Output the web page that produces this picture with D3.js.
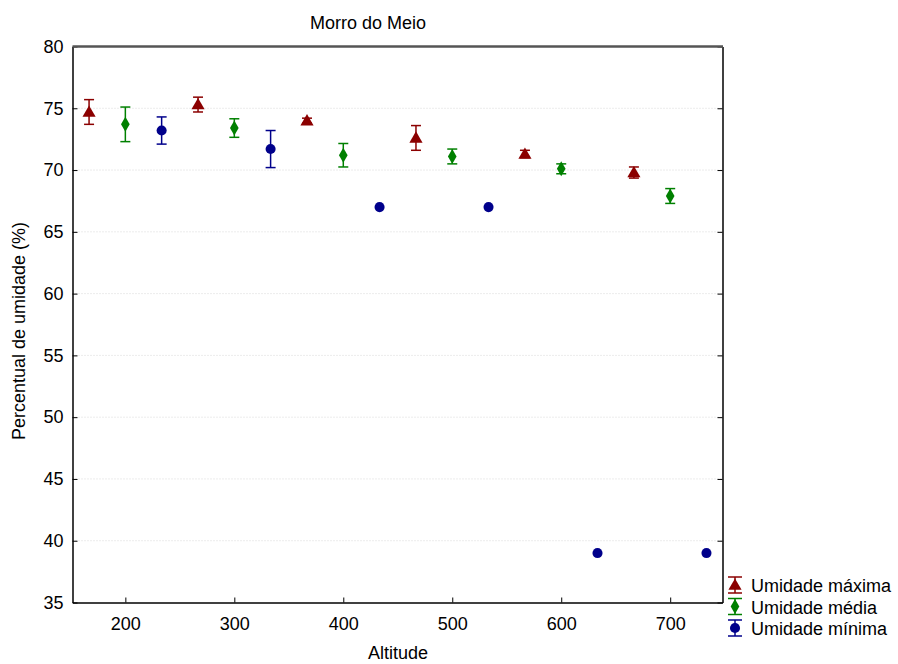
<!DOCTYPE html>
<html>
<head>
<meta charset="utf-8">
<script src="https://cdn.jsdelivr.net/npm/d3@7"></script>
<style>
  body { margin: 0; background: #fff; }
  svg { font-family: "Liberation Sans", Arial, sans-serif; }
</style>
</head>
<body>
<svg id="chart" width="898" height="664"></svg>
<script>
// Humidity by altitude, Morro do Meio
const altMax = [166.7, 266.7, 366.7, 466.7, 566.7, 666.7];
const valMax = [74.7, 75.3, 74.0, 72.6, 71.3, 69.8];
const errMax = [1.0, 0.6, 0.2, 1.0, 0.3, 0.45];

const altMed = [200, 300, 400, 500, 600, 700];
const valMed = [73.7, 73.4, 71.2, 71.1, 70.1, 67.9];
const errMed = [1.4, 0.75, 0.95, 0.6, 0.4, 0.6];

const altMin = [233.3, 333.3, 433.3, 533.3, 633.3, 733.3];
const valMin = [73.2, 71.7, 67.0, 67.0, 39.0, 39.0];
const errMin = [1.1, 1.5, 0, 0, 0, 0];

const xTicks = [200, 300, 400, 500, 600, 700];
const yTicks = [35, 40, 45, 50, 55, 60, 65, 70, 75, 80];

const seriesNames = ["Umidade máxima", "Umidade média", "Umidade mínima"];
const seriesColors = ["#8b0000", "#008000", "#00008b"];

const svg = d3.select("#chart");
const plotLeft = 72.5, plotRight = 722.5, plotTop = 46.5, plotBottom = 602.5;

const x = d3.scaleLinear().domain([151.5, 748]).range([plotLeft, plotRight]);
const y = d3.scaleLinear().domain([35, 80]).range([plotBottom, plotTop]);

// grid lines
svg.append("g").selectAll("line").data(yTicks.slice(1, -1)).join("line")
  .attr("x1", plotLeft).attr("x2", plotRight)
  .attr("y1", d => y(d)).attr("y2", d => y(d))
  .attr("stroke", "#d8d8d8").attr("stroke-width", 1)
  .attr("stroke-dasharray", "1,2");

// axes with inward ticks
const fontSize = 18;
const xAxis = svg.append("g").attr("transform", `translate(0,${plotBottom})`)
  .call(d3.axisBottom(x).tickValues(xTicks).tickSizeInner(-5).tickSizeOuter(0).tickPadding(15));
const yAxis = svg.append("g").attr("transform", `translate(${plotLeft},0)`)
  .call(d3.axisLeft(y).tickValues(yTicks).tickSizeInner(-5).tickSizeOuter(0).tickPadding(9));
const yAxisR = svg.append("g").attr("transform", `translate(${plotRight},0)`)
  .call(d3.axisRight(y).tickValues(yTicks).tickSizeInner(-5).tickSizeOuter(0).tickFormat(""));
[xAxis, yAxis, yAxisR].forEach(g => {
  g.selectAll("text").attr("font-size", fontSize).attr("fill", "#000")
    .attr("font-family", "Liberation Sans, Arial, sans-serif");
  g.selectAll("line").attr("stroke", "#000");
  g.select(".domain").attr("stroke", "#000").attr("stroke-width", 1.5);
});

// top frame line
svg.append("line").attr("x1", plotLeft).attr("x2", plotRight + 0.5)
  .attr("y1", plotTop).attr("y2", plotTop)
  .attr("stroke", "#555").attr("stroke-width", 2.5);

// title and axis labels
svg.append("text").attr("x", 368).attr("y", 29).attr("text-anchor", "middle")
  .attr("font-size", fontSize).text("Morro do Meio");
svg.append("text").attr("x", 398).attr("y", 659).attr("text-anchor", "middle")
  .attr("font-size", fontSize).text("Altitude");
svg.append("text").attr("transform", `translate(25,331) rotate(-90)`)
  .attr("text-anchor", "middle").attr("font-size", fontSize)
  .text("Percentual de umidade (%)");

// markers
const triangle = d3.symbol().type(d3.symbolTriangle).size(75);
const diamond = d3.symbol().type(d3.symbolDiamond).size(65);
const circle = d3.symbol().type(d3.symbolCircle).size(80);
const shapes = [triangle, diamond, circle];

const series = [
  { xs: altMax, vs: valMax, es: errMax },
  { xs: altMed, vs: valMed, es: errMed },
  { xs: altMin, vs: valMin, es: errMin }
];

series.forEach((s, i) => {
  const color = seriesColors[i];
  const pts = s.xs.map((a, j) => ({ a, v: s.vs[j], e: s.es[j] }));
  const g = svg.append("g");
  const withErr = pts.filter(p => p.e > 0);
  g.selectAll("line.v").data(withErr).join("line")
    .attr("x1", p => x(p.a)).attr("x2", p => x(p.a))
    .attr("y1", p => y(p.v + p.e)).attr("y2", p => y(p.v - p.e))
    .attr("stroke", color).attr("stroke-width", 1.5);
  [1, -1].forEach(sign => {
    g.selectAll(null).data(withErr).join("line")
      .attr("x1", p => x(p.a) - 5).attr("x2", p => x(p.a) + 5)
      .attr("y1", p => y(p.v + sign * p.e)).attr("y2", p => y(p.v + sign * p.e))
      .attr("stroke", color).attr("stroke-width", 1.5);
  });
  g.selectAll("path").data(pts).join("path")
    .attr("transform", p => `translate(${x(p.a)},${y(p.v) + (i === 0 ? 1 : 0)})`)
    .attr("d", shapes[i]())
    .attr("fill", color);
});

// legend
const legend = svg.append("g");
seriesNames.forEach((name, i) => {
  const ly = 585 + i * 21.5;
  const lx = 735;
  const color = seriesColors[i];
  legend.append("line").attr("x1", lx).attr("x2", lx).attr("y1", ly - 8).attr("y2", ly + 8)
    .attr("stroke", color).attr("stroke-width", 1.5);
  legend.append("line").attr("x1", lx - 7).attr("x2", lx + 7).attr("y1", ly - 8).attr("y2", ly - 8)
    .attr("stroke", color).attr("stroke-width", 1.5);
  legend.append("line").attr("x1", lx - 7).attr("x2", lx + 7).attr("y1", ly + 8).attr("y2", ly + 8)
    .attr("stroke", color).attr("stroke-width", 1.5);
  legend.append("path").attr("transform", `translate(${lx},${ly + (i === 0 ? 1 : 0)})`)
    .attr("d", shapes[i]()).attr("fill", color);
  legend.append("text").attr("x", 751).attr("y", ly + 7).attr("font-size", fontSize).text(name);
});
</script>
</body>
</html>
